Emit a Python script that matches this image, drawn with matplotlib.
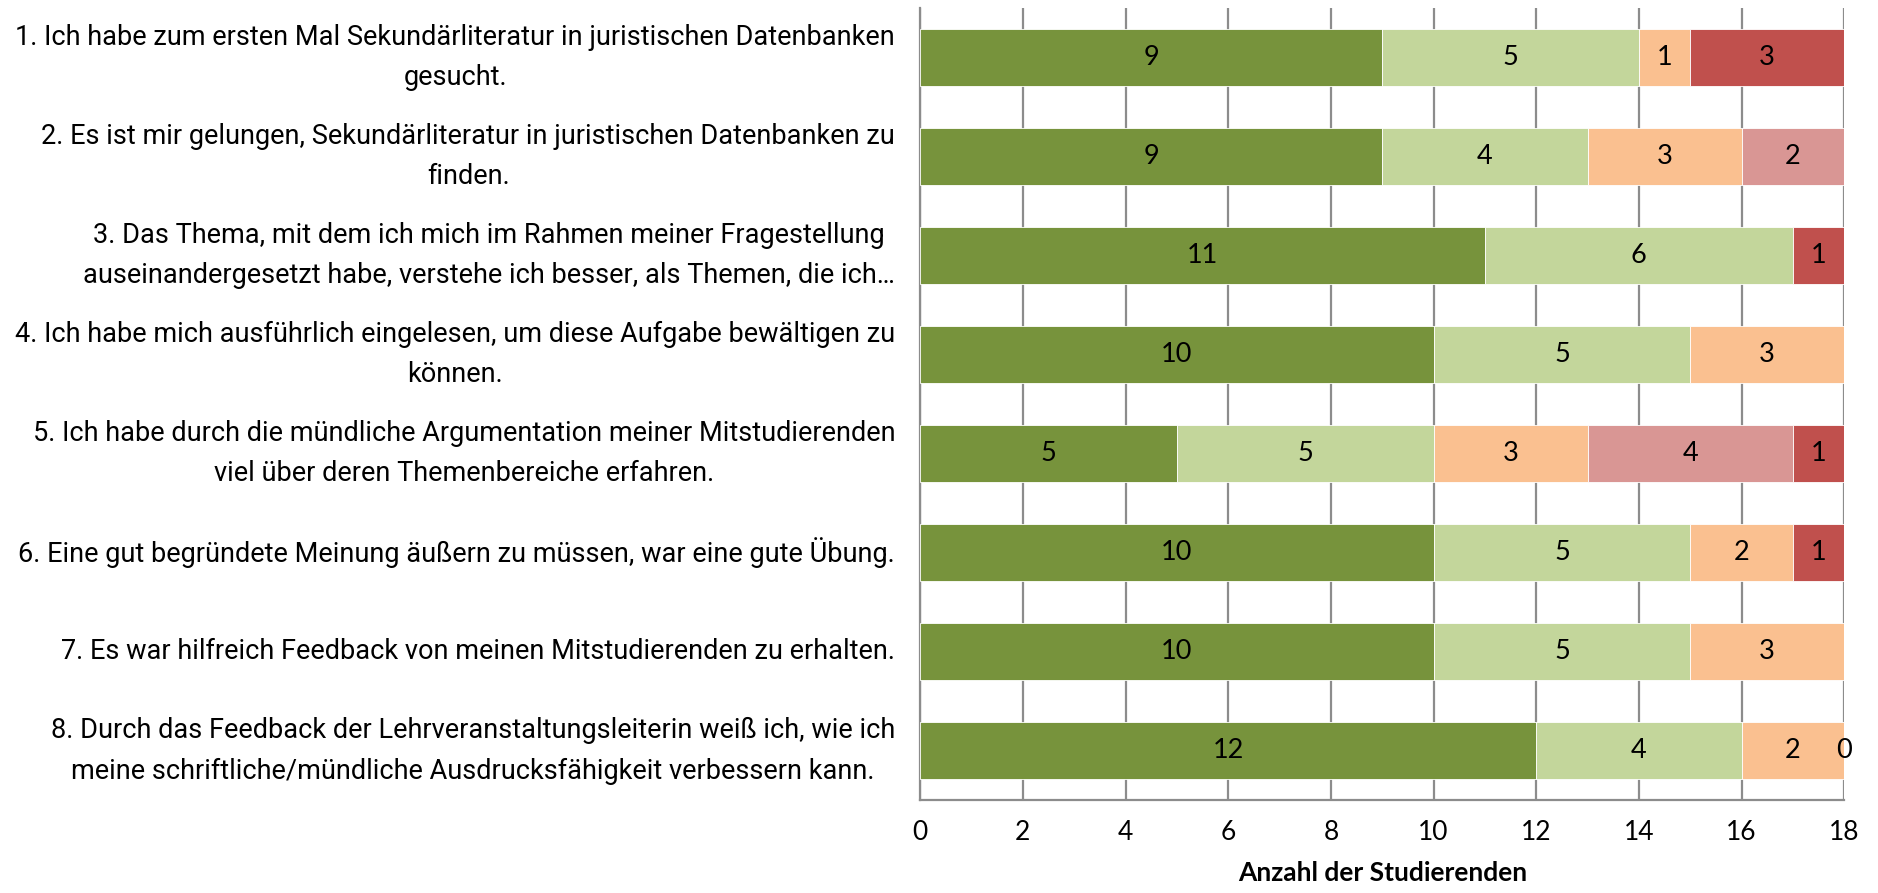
import numpy as np
from matplotlib import pyplot as plt

questions = [
    "1. Ich habe zum ersten Mal Sekundärliteratur in juristischen Datenbanken\ngesucht.",
    "2. Es ist mir gelungen, Sekundärliteratur in juristischen Datenbanken zu\nfinden.",
    "3. Das Thema, mit dem ich mich im Rahmen meiner Fragestellung\nauseinandergesetzt habe, verstehe ich besser, als Themen, die ich…",
    "4. Ich habe mich ausführlich eingelesen, um diese Aufgabe bewältigen zu\nkönnen.",
    "5. Ich habe durch die mündliche Argumentation meiner Mitstudierenden\nviel über deren Themenbereiche erfahren.",
    "6. Eine gut begründete Meinung äußern zu müssen, war eine gute Übung.",
    "7. Es war hilfreich Feedback von meinen Mitstudierenden zu erhalten.",
    "8. Durch das Feedback der Lehrveranstaltungsleiterin weiß ich, wie ich\nmeine schriftliche/mündliche Ausdrucksfähigkeit verbessern kann.",
]

# nan = no answer recorded (no label), 0 = explicit zero (labelled)
trifft_voll_zu = [9, 9, 11, 10, 5, 10, 10, 12]
trifft_eher_zu = [5, 4, 6, 5, 5, 5, 5, 4]
teils_teils = [1, 3, np.nan, 3, 3, 2, 3, 2]
trifft_eher_nicht_zu = [np.nan, 2, np.nan, np.nan, 4, np.nan, np.nan, 0]
trifft_nicht_zu = [3, np.nan, 1, np.nan, 1, 1, np.nan, np.nan]

series = [trifft_voll_zu, trifft_eher_zu, teils_teils, trifft_eher_nicht_zu, trifft_nicht_zu]
colors = ["#77933C", "#C3D69B", "#FAC090", "#D99694", "#C0504D"]

label_font = ["Roboto", "DejaVu Sans"]
num_font = ["Lato", "DejaVu Sans"]

fig = plt.figure(figsize=(18.78, 8.93), dpi=100)
ax = fig.add_axes([0.490, 0.104, 0.492, 0.887])

y = np.arange(len(questions))
left = np.zeros(len(questions))
for vals, col in zip(series, colors):
    vals = np.array(vals, dtype=float)
    w = np.nan_to_num(vals)
    bars = ax.barh(y, w, left=left, height=0.57, color=col, edgecolor="white",
                   linewidth=0.6, zorder=3)
    labels = ["" if np.isnan(v) else "%d" % v for v in vals]
    ax.bar_label(bars, labels=labels, label_type="center", fontsize=19.5,
                 family=num_font, color="black", zorder=4)
    left += w

ax.set_xlim(0, 18)
ax.set_ylim(len(questions) - 0.5, -0.5)
ax.set_xticks(range(0, 19, 2))
ax.tick_params(axis="x", labelsize=19, length=0, pad=14)
for t in ax.get_xticklabels():
    t.set_family(num_font)
ax.set_yticks(y)
ax.set_yticklabels(questions, family=label_font, fontsize=19.5,
                   multialignment="center", linespacing=1.65, va="center")
ax.tick_params(axis="y", length=0, pad=18)

ax.grid(axis="x", color="#8C8C8C", linewidth=1.6, zorder=0)
ax.set_axisbelow(True)
for s in ["top", "right"]:
    ax.spines[s].set_visible(False)
ax.spines["left"].set_color("#8C8C8C")
ax.spines["left"].set_linewidth(1.6)
ax.spines["bottom"].set_color("#8C8C8C")
ax.spines["bottom"].set_linewidth(1.6)

ax.set_xlabel("Anzahl der Studierenden", fontsize=19, fontweight="bold",
              family=num_font, labelpad=12)

plt.savefig("out.png", dpi=100)
